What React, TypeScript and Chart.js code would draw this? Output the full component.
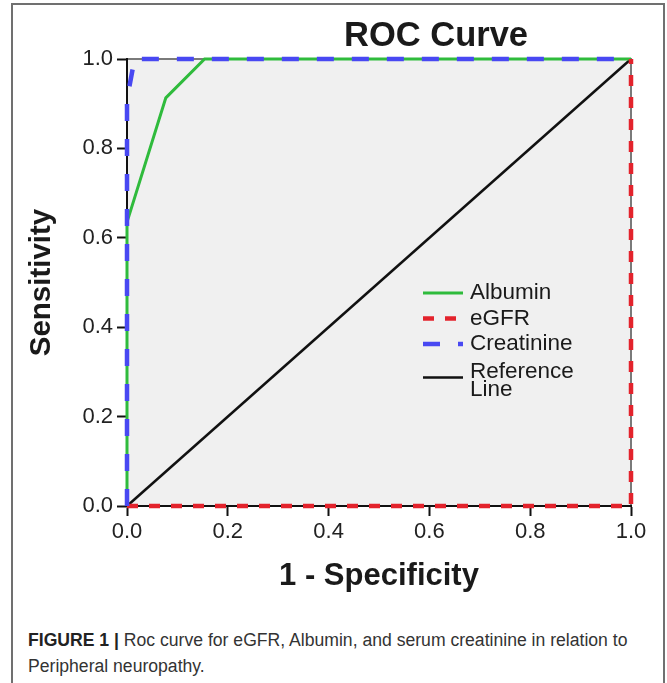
import React, { useEffect, useRef } from "react";
import { Chart, registerables } from "chart.js";

Chart.register(...registerables);

// ---- data ----
const albuminFpr = [0, 0, 0.077, 0.154, 1];
const albuminTpr = [0, 0.635, 0.913, 1, 1];
const egfrFpr = [0, 1, 1];
const egfrTpr = [0, 0, 1];
const creatinineFpr = [0, 0, 0.015, 1];
const creatinineTpr = [0, 0.91, 1, 1];
const referenceFpr = [0, 1];
const referenceTpr = [0, 1];
const xTickValues = [0, 0.2, 0.4, 0.6, 0.8, 1.0];
const yTickValues = [0, 0.2, 0.4, 0.6, 0.8, 1.0];
const seriesNames = ["Albumin", "eGFR", "Creatinine", "Reference\nLine"];

const FONT = '"Liberation Sans", Arial, sans-serif';

const toPoints = (xs: number[], ys: number[]) => xs.map((x, i) => ({ x, y: ys[i] }));

const bgPlugin = {
  id: "plotBg",
  beforeDraw(chart: any) {
    const { ctx, chartArea: a } = chart;
    ctx.save();
    ctx.fillStyle = "#f0f0f0";
    ctx.fillRect(a.left, a.top, a.right - a.left, a.bottom - a.top);
    ctx.strokeStyle = "#7a7a7a";
    ctx.lineWidth = 2;
    ctx.beginPath();
    ctx.moveTo(a.left, a.top);
    ctx.lineTo(a.right, a.top);
    ctx.lineTo(a.right, a.bottom);
    ctx.stroke();
    ctx.restore();
  },
};

const overlayPlugin = {
  id: "overlay",
  afterDraw(chart: any) {
    const { ctx, chartArea: a } = chart;
    ctx.save();
    // main title
    ctx.fillStyle = "#1a1a1a";
    ctx.font = `bold 34.5px ${FONT}`;
    ctx.textAlign = "center";
    ctx.textBaseline = "middle";
    ctx.fillText("ROC Curve", (a.left + a.right) / 2 + 57, a.top - 23);

    // legend
    const lx = a.left + 296;
    let ly = a.top + 234;
    const rowGap = 25.5;
    chart.data.datasets.forEach((ds: any, i: number) => {
      const lines = String(ds.label).split("\n");
      const sy = i === 3 ? ly + 8 : ly;
      ctx.strokeStyle = ds.borderColor;
      ctx.lineWidth = ds.borderWidth;
      ctx.setLineDash(ds.borderDash || []);
      ctx.beginPath();
      ctx.moveTo(lx, sy);
      ctx.lineTo(lx + 40, sy);
      ctx.stroke();
      ctx.setLineDash([]);
      ctx.fillStyle = "#1a1a1a";
      ctx.font = `22.5px ${FONT}`;
      ctx.textAlign = "left";
      ctx.textBaseline = "middle";
      if (lines.length === 1) {
        ctx.fillText(lines[0], lx + 47, sy);
      } else {
        ctx.fillText(lines[0], lx + 47, sy - 6);
        ctx.fillText(lines[1], lx + 47, sy + 12);
      }
      ly += rowGap;
    });
    ctx.restore();
  },
};

export default function App() {
  const ref = useRef<HTMLCanvasElement | null>(null);

  useEffect(() => {
    if (!ref.current) return;
    const chart = new Chart(ref.current, {
      type: "scatter",
      data: {
        datasets: [
          {
            label: seriesNames[0],
            data: toPoints(albuminFpr, albuminTpr),
            borderColor: "#2fbb3c",
            borderWidth: 3,
            order: 2,
          },
          {
            label: seriesNames[1],
            data: toPoints(egfrFpr, egfrTpr),
            borderColor: "#e3232c",
            borderWidth: 4.5,
            borderDash: [11, 11],
            order: 1,
          },
          {
            label: seriesNames[2],
            data: toPoints(creatinineFpr, creatinineTpr),
            borderColor: "#4848f2",
            borderWidth: 4.5,
            borderDash: [17, 18],
            order: 0,
          },
          {
            label: seriesNames[3],
            data: toPoints(referenceFpr, referenceTpr),
            borderColor: "#111111",
            borderWidth: 2.5,
            order: 3,
          },
        ].map((d) => ({
          ...d,
          showLine: true,
          pointRadius: 0,
          pointHoverRadius: 0,
          tension: 0,
          fill: false,
          clip: false as any,
        })) as any,
      },
      options: {
        animation: false,
        responsive: false,
        events: [],
        layout: { padding: { top: 59, right: 36, bottom: 0, left: 0 } },
        plugins: {
          legend: { display: false },
          title: { display: false },
          tooltip: { enabled: false },
        },
        scales: {
          x: {
            type: "linear",
            min: 0,
            max: 1,
            afterBuildTicks: (s: any) => {
              s.ticks = xTickValues.map((v) => ({ value: v }));
            },
            afterFit: (s: any) => {
              s.height = 104;
            },
            ticks: {
              callback: (v: any) => Number(v).toFixed(1),
              font: { family: FONT, size: 22 },
              color: "#222",
              padding: 3,
              maxRotation: 0,
              autoSkip: false,
            },
            grid: {
              drawOnChartArea: false,
              drawTicks: true,
              tickLength: 10,
              tickWidth: 2,
              tickColor: "#111",
            },
            border: { display: true, color: "#111", width: 2 },
            title: {
              display: true,
              text: "1 - Specificity",
              font: { family: FONT, size: 31, weight: "bold" },
              color: "#1a1a1a",
              padding: { top: 0, bottom: 15 },
            },
          },
          y: {
            type: "linear",
            min: 0,
            max: 1,
            afterBuildTicks: (s: any) => {
              s.ticks = yTickValues.map((v) => ({ value: v }));
            },
            afterFit: (s: any) => {
              s.width = 127;
            },
            ticks: {
              callback: (v: any) => Number(v).toFixed(1),
              font: { family: FONT, size: 22 },
              color: "#222",
              padding: 4,
              autoSkip: false,
            },
            grid: {
              drawOnChartArea: false,
              drawTicks: true,
              tickLength: 10,
              tickWidth: 2,
              tickColor: "#111",
            },
            border: { display: true, color: "#111", width: 2 },
            title: {
              display: true,
              text: "Sensitivity",
              font: { family: FONT, size: 29.5, weight: "bold" },
              color: "#1a1a1a",
              padding: { top: 24, bottom: 0 },
            },
          },
        },
      },
      plugins: [bgPlugin, overlayPlugin],
    });
    return () => chart.destroy();
  }, []);

  return (
    <div style={{ position: "absolute", left: 0, top: 0, width: 667, height: 683, overflow: "hidden", background: "#fff" }}>
      <div
        style={{
          position: "absolute",
          left: 11,
          top: 3,
          width: 654,
          height: 720,
          boxSizing: "border-box",
          border: "2px solid #707070",
          borderBottom: "none",
        }}
      />
      <canvas ref={ref} width={667} height={610} style={{ position: "absolute", left: 0, top: 0 }} />
      <div
        style={{
          position: "absolute",
          left: 28,
          top: 627,
          whiteSpace: "nowrap",
          font: `17.6px ${FONT}`,
          lineHeight: "26px",
          color: "#333",
        }}
      >
        <b style={{ color: "#222" }}>FIGURE 1 |</b> Roc curve for eGFR, Albumin, and serum creatinine in relation to
        <br />
        Peripheral neuropathy.
      </div>
    </div>
  );
}
